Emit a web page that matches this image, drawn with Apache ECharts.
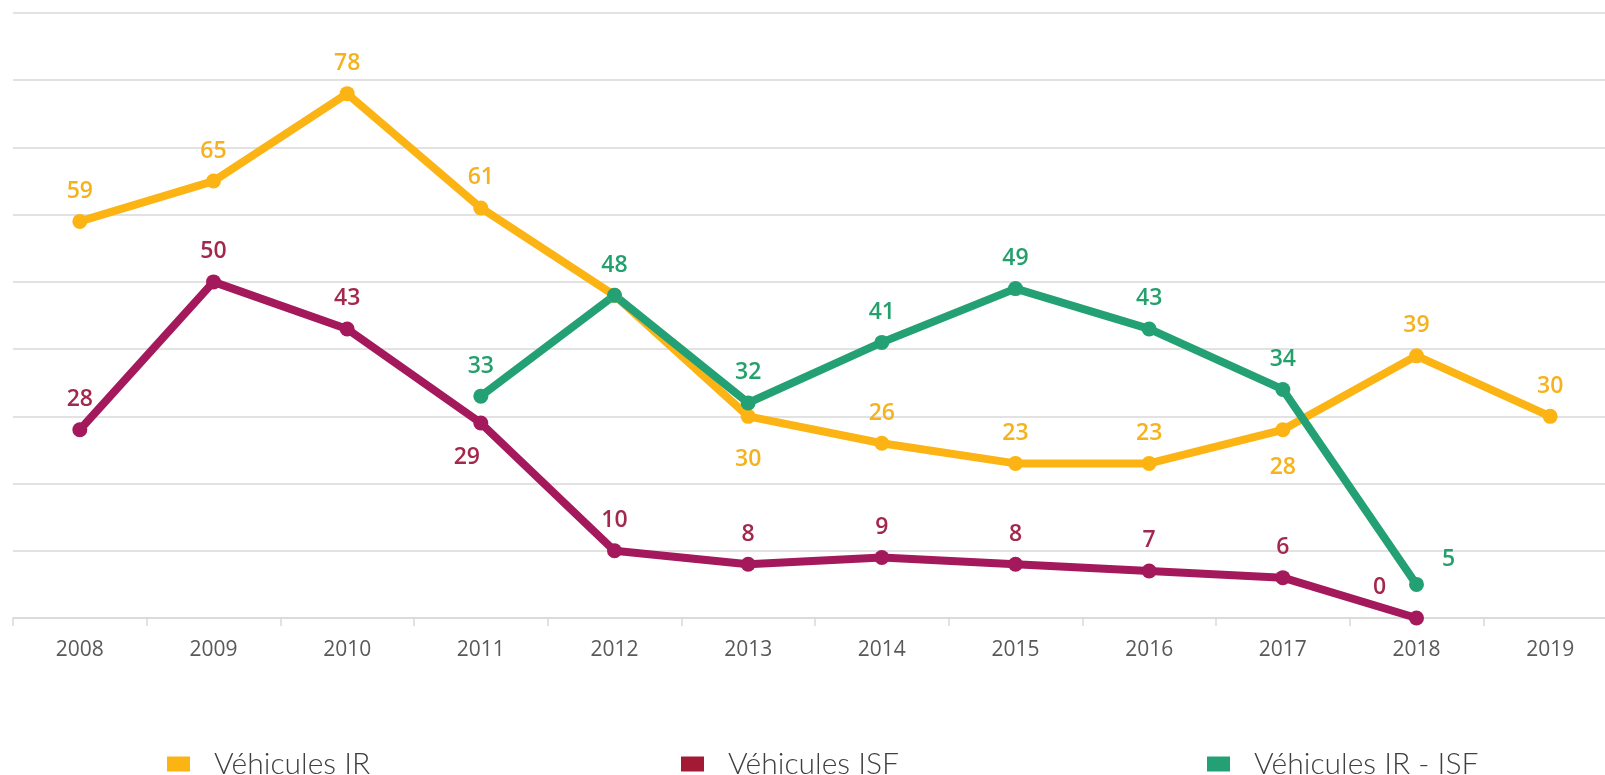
<!DOCTYPE html>
<html>
<head>
<meta charset="utf-8">
<script src="https://cdn.jsdelivr.net/npm/echarts@6/dist/echarts.min.js"></script>
<style>
    html, body { margin: 0; padding: 0; background: #fff; overflow: hidden; }
    #chart { width: 1605px; height: 775px; }
</style>
</head>
<body>
<div id="chart"></div>
<script>
// data
const years = ['2008', '2009', '2010', '2011', '2012', '2013', '2014', '2015', '2016', '2017', '2018', '2019']
const vehiculesIR = [59, 65, 78, 61, 48, 30, 26, 23, 23, 28, 39, 30]
const vehiculesISF = [28, 50, 43, 29, 10, 8, 9, 8, 7, 6, 0, null]
const vehiculesIRISF = [null, null, null, 33, 48, 32, 41, 49, 43, 34, 5, null]

// label offsets from the point centre (dx, dy), by index
const defaultOffset = [0, -30]
const irOffsets = { 4: null, 5: [0, 43], 9: [0, 38] }
const isfOffsets = { 3: [-14, 34], 10: [-37, -31] }
const irIsfOffsets = { 10: [32, -25] }

const myChart = echarts.init(document.getElementById('chart'))

const buildData = (values, offsets, color) => values.map((v, i) => {
    if (v === null) return '-'
    const off = i in offsets ? offsets[i] : defaultOffset
    if (off === null) return { value: v, label: { show: false } }
    return {
        value: v,
        label: {
            show: true,
            position: 'inside',
            offset: off,
            color: color,
            fontFamily: 'Open Sans',
            fontSize: 23,
            fontWeight: 600
        }
    }
})

const lineSeries = (name, values, offsets, color, labelColor) => ({
    name: name,
    type: 'line',
    data: buildData(values, offsets, labelColor),
    symbol: 'circle',
    symbolSize: 15,
    showAllSymbol: true,
    animation: false,
    color: color,
    lineStyle: { width: 8, color: color },
    itemStyle: { color: color }
})

const legendBase = (name, left, color) => ({
    data: [{ name: name, itemStyle: { color: color } }],
    left: left,
    top: 744,
    icon: 'rect',
    itemWidth: 23,
    itemHeight: 15,
    textStyle: {
        fontFamily: 'Lato',
        fontWeight: 300,
        fontSize: 30,
        color: '#404040',
        padding: [0, 0, 0, 19]
    }
})

const option = {
    backgroundColor: '#fff',
    // the last category runs past the right edge, as in the original
    grid: { left: 13, right: -12, top: 13, bottom: 157, outerBoundsMode: 'none' },
    legend: [
        legendBase('Véhicules IR', 162, '#FBB414'),
        legendBase('Véhicules ISF', 676, '#A31A35'),
        legendBase('Véhicules IR - ISF', 1202, '#23A174')
    ],
    xAxis: {
        type: 'category',
        data: years,
        boundaryGap: true,
        axisLine: { lineStyle: { color: '#d9d9d9', width: 1.5 } },
        axisTick: { show: true, length: 8, interval: 0, lineStyle: { color: '#d9d9d9', width: 1.5 } },
        axisLabel: {
            margin: 22,
            fontFamily: 'Open Sans',
            fontSize: 21,
            color: '#595959'
        }
    },
    yAxis: {
        type: 'value',
        min: 0,
        max: 90,
        interval: 10,
        axisLabel: { show: false },
        axisLine: { show: false },
        axisTick: { show: false },
        splitLine: { lineStyle: { color: '#d9d9d9', width: 1.5 } }
    },
    series: [
        lineSeries('Véhicules IR', vehiculesIR, irOffsets, '#FBB414', '#F6B21C'),
        lineSeries('Véhicules ISF', vehiculesISF, isfOffsets, '#A3195B', '#A3284D'),
        lineSeries('Véhicules IR - ISF', vehiculesIRISF, irIsfOffsets, '#23A174', '#23A06C')
    ]
}

myChart.setOption(option)
</script>
</body>
</html>
